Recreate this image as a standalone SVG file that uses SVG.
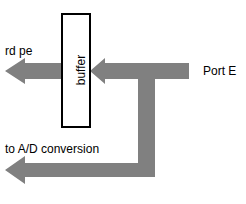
<svg xmlns="http://www.w3.org/2000/svg" width="246" height="204" viewBox="0 0 246 204">
<style>
.arrow{fill:#808080;stroke:none}
.lbl{font-family:"Liberation Sans",Arial,sans-serif;font-size:12px;fill:#000}
</style>
<rect width="246" height="204" fill="#fff"/>
<g id="connectors">
<path class="arrow" d="M189,63 L189,79 L155,79 L155,163 L155,177 L25,177 L25,184 L5,170 L25,156 L25,163 L138,163 L138,79 L105,79 L105,84 L90,71 L105,58 L105,63 Z"/>
<path class="arrow" d="M62,63 L62,79 L25,79 L25,84 L5,71 L25,58 L25,63 Z"/>
</g>
<g id="buffer">
<rect x="62" y="14" width="28" height="113" fill="#fff" stroke="#000" stroke-width="2"/>
<text class="lbl" transform="translate(84.5,70) rotate(-90)" text-anchor="middle">buffer</text>
</g>
<g id="rdpe"><text class="lbl" x="5" y="55">rd pe</text></g>
<g id="porte"><text class="lbl" x="203" y="75">Port E</text></g>
<g id="ad"><text class="lbl" x="5" y="153">to A/D conversion</text></g>
</svg>
